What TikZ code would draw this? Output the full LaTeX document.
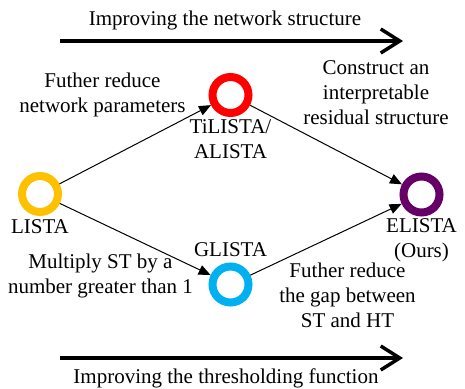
\documentclass[tikz,border=0pt]{standalone}
\usepackage{fontspec}
\setmainfont{Liberation Serif}
\usetikzlibrary{arrows.meta,positioning}
\definecolor{lista-yellow}{HTML}{FFC000}
\definecolor{tilista-red}{HTML}{FF0000}
\definecolor{glista-blue}{HTML}{00B0F0}
\definecolor{elista-purple}{HTML}{660066}

\begin{document}
\begin{tikzpicture}[x=1pt, y=-1pt, >={Triangle[length=12pt,width=10pt]},
    font=\fontsize{21}{25}\selectfont,
    ring/.style={circle, draw, line width=8pt, minimum size=36pt, inner sep=0pt},
    tag/.style={inner sep=0pt, align=center},
    note/.style={inner sep=0pt, align=center, anchor=north},
    link/.style={->, line width=1pt},
    trend/.style={line width=3.5pt, -{Straight Barb[length=19pt,width=24pt]}}]
    \useasboundingbox (0,0) rectangle (465,388);
    % methods
    \node[ring, draw=lista-yellow] (lista) at (40,194) {};
    \node[ring, draw=tilista-red] (tilista) at (230.5,95) {};
    \node[ring, draw=glista-blue] (glista) at (230.5,284.5) {};
    \node[ring, draw=elista-purple] (elista) at (421.5,194.5) {};
    \node[tag, below=3pt of lista] (lista-name) {LISTA};
    \node[tag, below=2pt of tilista] (tilista-name) {TiLISTA/\\ALISTA};
    \node[tag, above=5.5pt of glista] (glista-name) {GLISTA};
    \node[tag, below=2pt of elista] (elista-name) {ELISTA\\(Ours)};
    \draw[link] (lista) -- (tilista);
    \draw[link] (tilista) -- (elista);
    \draw[link] (lista) -- (glista);
    \draw[link] (glista) -- (elista);
    % notes on the links
    \node[note] (reduce-params) at (102.5,72.7) {Futher reduce\\network parameters};
    \node[note] (residual) at (376,60.5) {Construct an\\interpretable\\residual structure};
    \node[note] (multiply-st) at (100.5,253.7) {Multiply ST by a\\number greater than 1};
    \node[note] (reduce-gap) at (347.5,262.7) {Futher reduce\\the gap between\\ST and HT};
    % the two directions
    \coordinate (net-start) at (60,41);
    \coordinate (net-end) at (403,41);
    \coordinate (thr-start) at (60,358);
    \coordinate (thr-end) at (403,358);
    \draw[trend] (net-start) -- (net-end);
    \draw[trend] (thr-start) -- (thr-end);
    \node[note] (net-title) at (225,10.7) {Improving the network structure};
    \node[note] (thr-title) at (226,368.5) {Improving the thresholding function};
\end{tikzpicture}
\end{document}
